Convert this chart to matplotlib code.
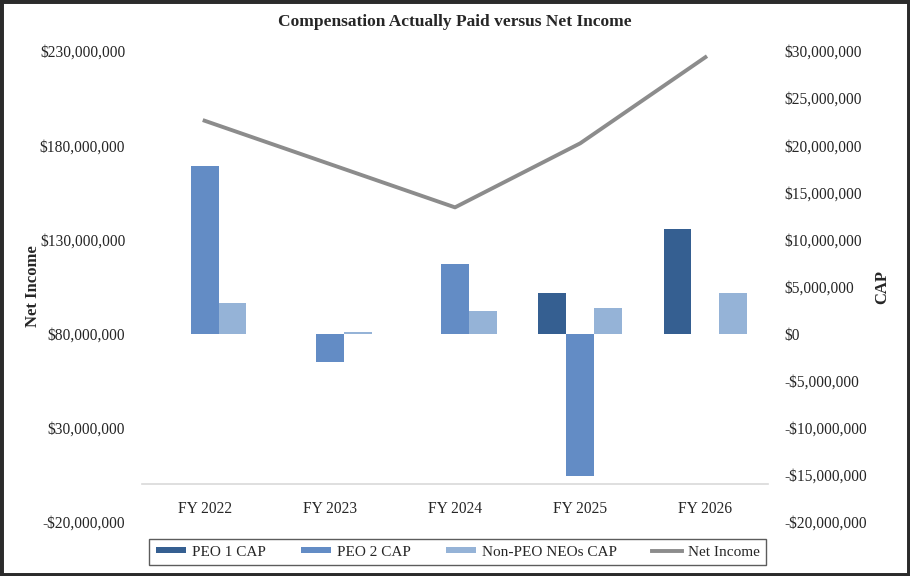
import matplotlib
matplotlib.use("Agg")
from matplotlib import pyplot as plt
from matplotlib.patches import Patch, Rectangle
from matplotlib.lines import Line2D
from matplotlib.ticker import FuncFormatter, MultipleLocator
import numpy as np

plt.rcParams['font.family'] = ['Liberation Serif', 'DejaVu Serif']

years = ["FY 2022", "FY 2023", "FY 2024", "FY 2025", "FY 2026"]
# CAP values in dollars (right axis)
peo1_cap = [np.nan, np.nan, np.nan, 4.3e6, 11.1e6]
peo2_cap = [17.8e6, -3.0e6, 7.4e6, -15.1e6, np.nan]
non_peo_cap = [3.2e6, 0.13e6, 2.4e6, 2.7e6, 4.3e6]
# Net income in dollars (left axis)
net_income = [193.0e6, 170.0e6, 147.0e6, 181.0e6, 226.7e6]

c_peo1 = "#355F91"
c_peo2 = "#638CC5"
c_non = "#95B3D7"
c_line = "#8C8C8C"
txt = "#262626"


def money(v, pos=None):
    if v == 0:
        return "$0"
    if v < 0:
        return "-${:,.0f}".format(-v)
    return "${:,.0f}".format(v)


fig = plt.figure(figsize=(9.1, 5.76), dpi=100)
ax = fig.add_axes([142 / 910, 1 - 522 / 576, (768 - 142) / 910, (522 - 51) / 576])
ax2 = ax.twinx()

x = np.arange(len(years))
w = 0.223

ax2.bar(x - w, peo1_cap, w, color=c_peo1, zorder=2)
ax2.bar(x, peo2_cap, w, color=c_peo2, zorder=2)
ax2.bar(x + w, non_peo_cap, w, color=c_non, zorder=2)
ax.plot(x, net_income, color=c_line, lw=2.8, zorder=3)

ax.set_xlim(-0.5, len(years) - 0.5)
ax.set_ylim(-20e6, 230e6)
ax2.set_ylim(-20e6, 30e6)
ax.set_yticks(np.arange(-20e6, 231e6, 50e6))
ax2.yaxis.set_major_locator(MultipleLocator(5e6))
ax.yaxis.set_major_formatter(FuncFormatter(money))
ax2.yaxis.set_major_formatter(FuncFormatter(money))

for a in (ax, ax2):
    for s in a.spines.values():
        s.set_visible(False)
    a.tick_params(length=0, labelsize=11.2, colors=txt)

ax.tick_params(axis="y", pad=12)
ax2.tick_params(axis="y", pad=12)

# category axis sits at zero net income
ax.spines["bottom"].set_visible(True)
ax.spines["bottom"].set_position(("data", 0))
ax.spines["bottom"].set_color("#D9D9D9")
ax.spines["bottom"].set_linewidth(1.2)
ax.set_xticks(x)
ax.set_xticklabels(years)
ax.tick_params(axis="x", pad=12)

ax.set_ylabel("Net Income", fontsize=12, fontweight="bold", color=txt)
ax2.set_ylabel("CAP", fontsize=12, fontweight="bold", color=txt, rotation=90)
ax.yaxis.set_label_coords(-0.161, 0.5)
ax2.yaxis.set_label_coords(1.169, 0.5)

fig.text(0.5, 1 - 22 / 576, "Compensation Actually Paid versus Net Income",
         ha="center", va="center", fontsize=12.5, fontweight="bold", color=txt)

handles = [
    Patch(facecolor=c_peo1, label="PEO 1 CAP"),
    Patch(facecolor=c_peo2, label="PEO 2 CAP"),
    Patch(facecolor=c_non, label="Non-PEO NEOs CAP"),
    Line2D([0], [0], color=c_line, lw=2.8, label="Net Income"),
]
leg = fig.legend(handles=handles, loc="center", bbox_to_anchor=(0.503, 1 - 552 / 576),
                 ncol=4, fontsize=11, frameon=True, fancybox=False,
                 handlelength=2.0, handleheight=0.3, handletextpad=0.35,
                 columnspacing=2.3, borderpad=0.45, borderaxespad=0)
leg.get_frame().set_edgecolor("#333333")
leg.get_frame().set_linewidth(1.0)
for t in leg.get_texts():
    t.set_color(txt)

fig.patches.append(Rectangle((0, 0), 1, 1, transform=fig.transFigure, fill=False,
                             edgecolor="#2B2B2B", linewidth=5))

fig.savefig("out.png", dpi=100)
